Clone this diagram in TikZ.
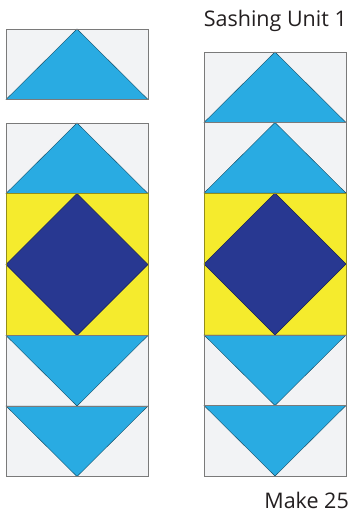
\documentclass[tikz,border=0pt]{standalone}
\usepackage{fontspec}
\setmainfont{Open Sans}
\definecolor{patchGrey}{HTML}{F2F3F5}
\definecolor{seamGrey}{HTML}{7A7A7A}
\definecolor{skyBlue}{HTML}{29ABE2}
\definecolor{navyBlue}{HTML}{283891}
\definecolor{sunYellow}{HTML}{F5EB2D}
\definecolor{labelInk}{HTML}{231F20}
% flying geese unit pointing up / down, top-left corner at (#1,#2)
\newcommand\geeseUp[2]{%
  \fill[patch] (#1,#2) rectangle ++(142,70.5);
  \filldraw[goose] (#1,#2+70.5) -- (#1+71,#2) -- (#1+142,#2+70.5) -- cycle;
  \draw[seam] (#1,#2) rectangle ++(142,70.5);}
\newcommand\geeseDown[2]{%
  \fill[patch] (#1,#2) rectangle ++(142,70.5);
  \filldraw[goose] (#1,#2) -- (#1+71,#2+70.5) -- (#1+142,#2) -- cycle;
  \draw[seam] (#1,#2) rectangle ++(142,70.5);}
% square in a square block
\newcommand\diamondBlock[2]{%
  \fill[corner] (#1,#2) rectangle ++(142,142);
  \filldraw[centre] (#1+71,#2) -- (#1+142,#2+71) -- (#1+71,#2+142) -- (#1,#2+71) -- cycle;
  \draw[seam, draw=sunYellow!60!black] (#1,#2) rectangle ++(142,142);}
\begin{document}
\begin{tikzpicture}[x=1pt, y=-1pt,
  patch/.style={fill=patchGrey},
  seam/.style={draw=seamGrey, line width=0.9pt},
  goose/.style={fill=skyBlue, draw=skyBlue!45!black, line width=0.4pt},
  corner/.style={fill=sunYellow},
  centre/.style={fill=navyBlue, draw=navyBlue!60!black, line width=0.4pt},
  caption/.style={font=\fontsize{21.5}{25}\selectfont, text=labelInk,
                  inner sep=0pt, anchor=base east}
]
\useasboundingbox (0,0) rectangle (350,514);

% LEFT: loose unit and the joined strip
\geeseUp{6}{29}
\geeseUp{6}{123}
\diamondBlock{6}{193.5}
\geeseDown{6}{335.5}
\geeseDown{6}{406}

% RIGHT: finished sashing unit
\geeseUp{204}{52}
\geeseUp{204}{122.5}
\diamondBlock{204}{193}
\geeseDown{204}{335}
\geeseDown{204}{405.5}

\node[caption] (title) at (347,27) {Sashing Unit 1};
\node[caption] (count) at (349,508) {Make 25};
\end{tikzpicture}
\end{document}
